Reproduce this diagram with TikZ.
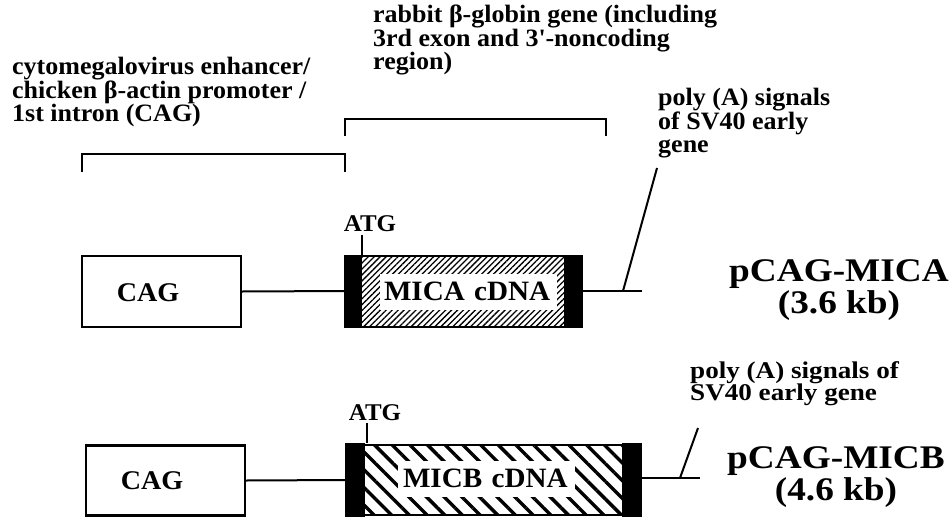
\documentclass[tikz,border=0pt]{standalone}
\usepackage{fontspec}
\setmainfont{Liberation Serif}[FakeStretch=1.04]
\newfontfamily\widefont{Liberation Serif}[FakeStretch=1.13]
\usetikzlibrary{patterns.meta}
\begin{document}
\begin{tikzpicture}[x=1pt,y=-1pt,
  every node/.style={font=\bfseries, inner sep=0pt},
  small/.style={font=\bfseries\fontsize{25}{23.5}\selectfont, align=left, anchor=north west},
  big/.style={font=\widefont\bfseries\fontsize{33}{32}\selectfont, align=center},
  cagbox/.style={draw, line width=2.2pt, minimum width=159pt, minimum height=71pt},
  genebox/.style={draw, line width=2pt},
  finehatch/.style={pattern={Lines[angle=45,distance=4.2pt,line width=1.3pt]}},
  coarsehatch/.style={pattern={Lines[angle=-45,distance=12.5pt,line width=3.4pt]}},
  lab/.style={fill=white, font=\bfseries\fontsize{28}{30}\selectfont, align=left, inner xsep=4pt, minimum height=36pt},
  atg/.style={font=\bfseries\fontsize{24}{26}\selectfont},
  cagtext/.style={font=\bfseries\fontsize{27}{29}\selectfont},
  conn/.style={line width=2pt},
  brk/.style={line width=2pt}
]
\useasboundingbox (0,0) rectangle (950,530);

% top annotations
\node[small] (cmv) at (12,57) {cytomegalovirus enhancer/\\chicken β-actin promoter /\\1st intron (CAG)};
\node[small] (rab) at (373,5) {rabbit β-globin gene (including\\3rd exon and 3\textquotesingle-noncoding\\region)};
\node[small] (pa1) at (658,88) {poly (A) signals\\of SV40 early\\gene};

% brackets
\draw[brk] (82,172) -- (82,154) -- (345,154) -- (345,172);
\draw[brk] (345,136) -- (345,119) -- (606,119) -- (606,136);

% row 1: MICA
\node[cagbox] (cag1) at (161.5,291.5) {};
\node[cagtext] (cag1t) at (148,293) {CAG};
\node[genebox, finehatch, minimum width=237pt, minimum height=71pt] (mica) at (463.5,291) {};
\fill (mica.north west) rectangle ([xshift=18pt]mica.south west);
\fill ([xshift=-19pt]mica.north east) rectangle (mica.south east);
\node[lab, text width=169pt] (micalab) at (468.5,291.5) {MICA cDNA};
\node[atg] (atg1) at (370,224) {ATG};
\coordinate (t1) at (362,235);
\draw[conn] (t1) -- (t1 |- mica.north);
\draw[conn] (cag1.east) -- (mica.west);
\coordinate (e1) at (642,291);
\draw[conn] (mica.east) -- (e1);
\coordinate (s1b) at (623,291);
\coordinate (s1t) at (657,168);
\draw[conn] (s1b) -- (s1t);
\node[big] (pmica) at (839,290) {pCAG-MICA\\(3.6 kb)};

% row 2: MICB
\node[cagbox, minimum height=70pt] (cag2) at (165.5,480.5) {};
\node[cagtext] (cag2t) at (152,481) {CAG};
\node[genebox, coarsehatch, minimum width=293pt, minimum height=70pt] (micb) at (493.5,480) {};
\fill (micb.north west) rectangle ([xshift=20pt]micb.south west);
\fill ([xshift=-20pt]micb.north east) rectangle (micb.south east);
\node[lab, text width=167pt, inner xsep=5pt] (micblab) at (486.5,478.5) {MICB cDNA};
\node[atg] (atg2) at (375,413) {ATG};
\coordinate (t2) at (367,423);
\draw[conn] (t2) -- (t2 |- micb.north);
\draw[conn] (cag2.east) -- (micb.west);
\coordinate (e2) at (700,478);
\draw[conn] (micb.east |- e2) -- (e2);
\coordinate (s2b) at (680,478);
\coordinate (s2t) at (698,428);
\draw[conn] (s2b) -- (s2t);
\node[small, font=\widefont\bfseries\fontsize{24}{22}\selectfont] (pa2) at (690,361) {poly (A) signals of\\SV40 early gene};
\node[big] (pmicb) at (836,477) {pCAG-MICB\\(4.6 kb)};
\end{tikzpicture}
\end{document}
